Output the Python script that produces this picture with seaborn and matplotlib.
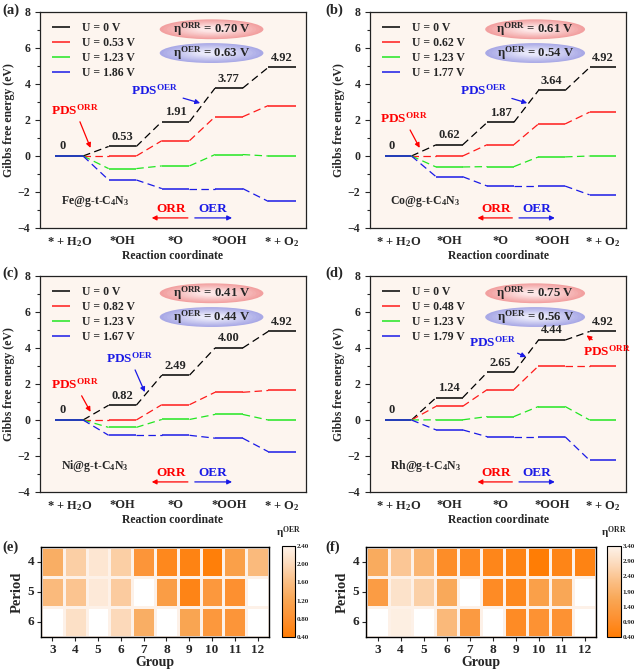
import numpy as np
import pandas as pd
import seaborn as sns
import matplotlib.pyplot as plt
from matplotlib.patches import Ellipse
from matplotlib.colors import LinearSegmentedColormap, to_rgb

sns.set_theme(style='ticks')
# Times 风格的粗体字
plt.rcParams['font.family'] = ['Liberation Serif', 'DejaVu Serif']
plt.rcParams['font.weight'] = 'bold'
plt.rcParams['axes.labelweight'] = 'bold'
plt.rcParams['mathtext.fontset'] = 'custom'
plt.rcParams['mathtext.rm'] = 'Liberation Serif:bold'
plt.rcParams['mathtext.bf'] = 'Liberation Serif:bold'
plt.rcParams['mathtext.it'] = 'Liberation Serif:bold'
plt.rcParams['mathtext.default'] = 'rm'

steps = ['* + H$_2$O', '*OH', '*O', '*OOH', '* + O$_2$']
line_colors = ['black', '#ff1a1a', '#22e622', '#1a1ae6']

# Fe@g-t-C4N3
fe_u = ['0', '0.53', '1.23', '1.86']
fe_g = [[0, 0.53, 1.91, 3.77, 4.92],
        [0, 0.00, 0.85, 2.18, 2.80],
        [0, -0.70, -0.55, 0.08, 0.00],
        [0, -1.33, -1.81, -1.81, -2.52]]
# Co@g-t-C4N3
co_u = ['0', '0.62', '1.23', '1.77']
co_g = [[0, 0.62, 1.87, 3.64, 4.92],
        [0, 0.00, 0.63, 1.78, 2.44],
        [0, -0.61, -0.59, -0.05, 0.00],
        [0, -1.15, -1.67, -1.67, -2.16]]
# Ni@g-t-C4N3
ni_u = ['0', '0.82', '1.23', '1.67']
ni_g = [[0, 0.82, 2.49, 4.00, 4.92],
        [0, 0.00, 0.85, 1.54, 1.64],
        [0, -0.41, 0.03, 0.31, 0.00],
        [0, -0.85, -0.85, -1.01, -1.76]]
# Rh@g-t-C4N3
rh_u = ['0', '0.48', '1.23', '1.79']
rh_g = [[0, 1.24, 2.65, 4.44, 4.92],
        [0, 0.76, 1.69, 3.00, 3.00],
        [0, 0.01, 0.19, 0.75, 0.00],
        [0, -0.55, -0.93, -0.93, -2.24]]

eta_orr_vals = ['0.70', '0.61', '0.41', '0.75']
eta_oer_vals = ['0.63', '0.54', '0.44', '0.56']

# 热图数据 (周期 x 族)
periods = [4, 5, 6]
groups = [3, 4, 5, 6, 7, 8, 9, 10, 11, 12]
nan = np.nan
eta_oer_grid = [[1.35, 1.85, 2.20, 1.85, 0.90, 0.63, 0.54, 0.44, 1.10, 1.55],
                [1.55, 1.70, 2.25, 1.80, nan, 1.05, 0.56, 0.95, 0.80, nan],
                [nan, 2.10, nan, 2.00, 1.35, nan, 1.20, 0.95, 0.90, nan]]
eta_orr_grid = [[1.75, 2.40, 2.00, 0.90, 0.80, 0.70, 0.61, 0.41, 0.65, 0.60],
                [1.35, 3.00, 2.60, 1.70, nan, 0.85, 0.75, 1.45, 1.65, nan],
                [nan, 3.30, nan, 2.10, 1.30, nan, 0.85, 1.05, 1.05, nan]]
oer_ticks = [0.40, 0.80, 1.20, 1.60, 2.00, 2.40]
orr_ticks = [0.40, 0.90, 1.40, 1.90, 2.40, 2.90, 3.40]

heat_cmap = LinearSegmentedColormap.from_list(
    'oranges', [(0.0, '#ff7d05'), (0.2, '#fd9030'), (0.4, '#f9a552'),
                (0.6, '#fabd82'), (0.8, '#fcd9ba'), (1.0, '#fdf3ea')])

W, H = 640, 670
fig = plt.figure(figsize=(6.4, 6.7), dpi=100)


def px_axes(l, t, r, b):
    return fig.add_axes([l / W, 1 - b / H, (r - l) / W, (b - t) / H])


def grad_ellipse(ax, cx, cy, w, h, edge, center, text):
    e, c = np.array(to_rgb(edge)), np.array(to_rgb(center))
    n = 12
    for k in range(n):
        f = k / (n - 1)
        s = 1 - 0.75 * f
        ax.add_patch(Ellipse((cx, cy), w * s, h * s, transform=ax.transAxes,
                             facecolor=e * (1 - f) + c * f, edgecolor='none', zorder=1))
    ax.text(cx, cy, text, transform=ax.transAxes, ha='center', va='center',
            fontsize=9.2, zorder=2)


def energy_panel(ax, g_levels, u_labels, eta_orr, eta_oer, metal, pds):
    ax.set_facecolor('#fdf5ef')
    for g, u, c in zip(g_levels, u_labels, line_colors):
        for i, y in enumerate(g):
            ax.plot([i - 0.26, i + 0.26], [y, y], color=c, lw=1.1,
                    solid_capstyle='butt', label=f'U = {u} V' if i == 0 else None)
            if i < len(g) - 1:
                ax.plot([i + 0.26, i + 0.74], [y, g[i + 1]], color=c, lw=0.9,
                        ls=(0, (6, 3.5)))
    for i, y in enumerate(g_levels[0]):
        if i == 0:
            ax.text(-0.12, y + 0.2, '0', ha='center', va='bottom', fontsize=9)
        else:
            ax.text(i, y + 0.2, f'{y:.2f}', ha='center', va='bottom', fontsize=9)

    ax.legend(loc='upper left', bbox_to_anchor=(0.02, 0.985), frameon=False,
              fontsize=8.5, handlelength=1.5, labelspacing=0.25, handletextpad=1.0,
              borderaxespad=0.2)
    grad_ellipse(ax, 0.645, 0.92, 0.39, 0.092, '#f2a0a0', '#fde6e6',
                 'η$^{\\mathrm{ORR}}$ = ' + eta_orr + ' V')
    grad_ellipse(ax, 0.645, 0.81, 0.39, 0.092, '#a9a9e6', '#e8e8fa',
                 'η$^{\\mathrm{OER}}$ = ' + eta_oer + ' V')

    for (txt, col, xy, xyt) in pds:
        ax.annotate(txt, xy=xy, xytext=xyt, ha='center', va='center', color=col,
                    fontsize=9.5, zorder=5,
                    arrowprops=dict(arrowstyle='-|>', color=col, lw=0.9,
                                    mutation_scale=7, shrinkA=1, shrinkB=0))

    ax.text(-0.15, -2.55, metal, ha='left', va='center', fontsize=8.5)
    ax.text(1.91, -2.95, 'ORR', color='red', ha='center', va='center', fontsize=9.5)
    ax.text(2.70, -2.95, 'OER', color='#1a1ae6', ha='center', va='center', fontsize=9.5)
    ax.annotate('', xy=(1.55, -3.44), xytext=(2.23, -3.44),
                arrowprops=dict(arrowstyle='-|>', color='red', lw=0.9,
                                mutation_scale=7, shrinkA=0, shrinkB=0))
    ax.annotate('', xy=(3.06, -3.44), xytext=(2.36, -3.44),
                arrowprops=dict(arrowstyle='-|>', color='#1a1ae6', lw=0.9,
                                mutation_scale=7, shrinkA=0, shrinkB=0))

    ax.set_xlim(-0.55, 4.45)
    ax.set_ylim(-4, 8)
    ax.set_xticks(range(5))
    ax.set_xticklabels(steps, fontsize=9)
    ax.tick_params(axis='x', length=0, pad=5)
    ax.set_yticks(range(-4, 9, 2))
    ax.set_yticks(range(-3, 8, 2), minor=True)
    ax.tick_params(axis='y', which='major', length=3.5, width=0.8, labelsize=8.5,
                   direction='out', left=True)
    ax.tick_params(axis='y', which='minor', length=2, width=0.8, direction='out', left=True)
    ax.set_ylabel('Gibbs free energy (eV)', fontsize=8.5, labelpad=2)
    ax.set_xlabel('Reaction coordinate', fontsize=8.5, labelpad=1)
    for s in ax.spines.values():
        s.set_visible(True)
        s.set_color('#222222')
        s.set_linewidth(0.9)


def heat_panel(ax, cax, grid, vmax, ticks, title):
    df = pd.DataFrame(grid, index=periods, columns=groups)
    sns.heatmap(df, ax=ax, cbar_ax=cax, cmap=heat_cmap, vmin=0.4, vmax=vmax,
                linewidths=1.0, linecolor='#fdf1e8')
    for s in ax.spines.values():
        s.set_visible(True)
        s.set_color('black')
        s.set_linewidth(1.0)
    ax.set_yticklabels(periods, rotation=0)
    ax.set_xticklabels(groups, rotation=0)
    ax.tick_params(length=3, width=0.8, labelsize=9.5, pad=2)
    ax.set_xlabel('Group', fontsize=10, labelpad=0)
    ax.set_ylabel('Period', fontsize=10.5, labelpad=3)
    cbar = ax.collections[0].colorbar
    cbar.set_ticks(ticks)
    cbar.ax.set_yticklabels([f'{t:.2f}' for t in ticks])
    cbar.ax.tick_params(labelsize=5, length=2.5, width=0.6, direction='in', pad=1)
    cbar.outline.set_edgecolor('black')
    cbar.outline.set_linewidth(0.8)
    cax.text(0.5, 1.06, title, transform=cax.transAxes, ha='center', va='bottom',
             fontsize=8)


ax_a = px_axes(40, 12, 306, 228)
ax_b = px_axes(370, 12, 626, 228)
ax_c = px_axes(40, 276, 306, 492)
ax_d = px_axes(370, 276, 626, 492)

energy_panel(ax_a, fe_g, fe_u, eta_orr_vals[0], eta_oer_vals[0], 'Fe@g-t-C$_4$N$_3$',
             [('PDS$^{\\mathrm{ORR}}$', 'red', (0.40, 0.45), (0.11, 2.56)),
              ('PDS$^{\\mathrm{OER}}$', '#1a1ae6', (2.46, 2.94), (1.61, 3.67))])
energy_panel(ax_b, co_g, co_u, eta_orr_vals[1], eta_oer_vals[1], 'Co@g-t-C$_4$N$_3$',
             [('PDS$^{\\mathrm{ORR}}$', 'red', (0.42, 0.45), (0.11, 2.1)),
              ('PDS$^{\\mathrm{OER}}$', '#1a1ae6', (2.52, 2.94), (1.67, 3.67))])
energy_panel(ax_c, ni_g, ni_u, eta_orr_vals[2], eta_oer_vals[2], 'Ni@g-t-C$_4$N$_3$',
             [('PDS$^{\\mathrm{ORR}}$', 'red', (0.40, 0.45), (0.11, 2.0)),
              ('PDS$^{\\mathrm{OER}}$', '#1a1ae6', (1.42, 1.55), (1.14, 3.44))])
energy_panel(ax_d, rh_g, rh_u, eta_orr_vals[3], eta_oer_vals[3], 'Rh@g-t-C$_4$N$_3$',
             [('PDS$^{\\mathrm{OER}}$', '#1a1ae6', (2.5, 3.5), (1.84, 4.33)),
              ('PDS$^{\\mathrm{ORR}}$', 'red', (3.68, 4.70), (4.08, 3.83))])

ax_e = px_axes(41, 547, 269, 637)
cax_e = px_axes(282, 546, 295, 637)
ax_f = px_axes(366, 547, 596, 637)
cax_f = px_axes(607, 546, 621, 637)
heat_panel(ax_e, cax_e, eta_oer_grid, 2.4, oer_ticks, 'η$^{\\mathrm{OER}}$')
heat_panel(ax_f, cax_f, eta_orr_grid, 3.4, orr_ticks, 'η$^{\\mathrm{ORR}}$')

for lab, x, y in [('(a)', 2, 10), ('(b)', 325, 10), ('(c)', 2, 273),
                  ('(d)', 325, 273), ('(e)', 2, 547), ('(f)', 325, 547)]:
    fig.text(x / W, 1 - y / H, lab, fontsize=10.5, fontweight='bold',
             ha='left', va='center')

plt.savefig('out.png', dpi=100)
